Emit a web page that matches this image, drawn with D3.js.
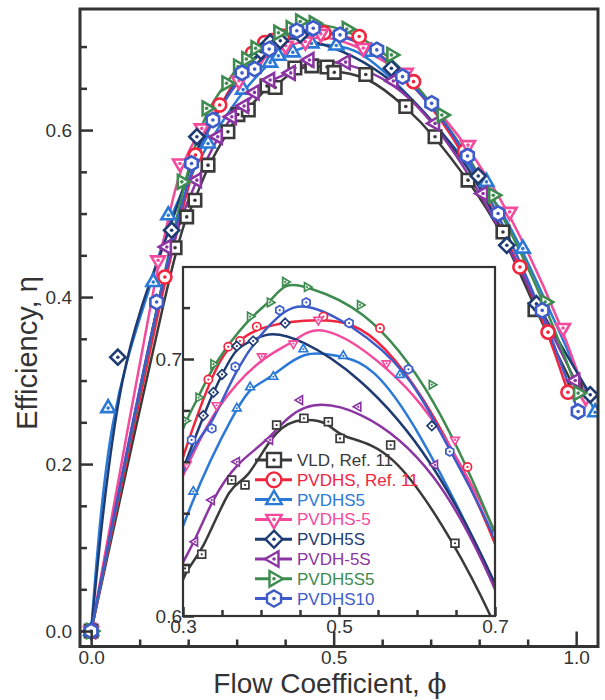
<!DOCTYPE html>
<html>
<head>
<meta charset="utf-8">
<script src="https://cdn.jsdelivr.net/npm/d3@7"></script>
<style>
body { margin: 0; background: #fff; }
text { font-family: "Liberation Sans", Arial, sans-serif; fill: #333; }
</style>
</head>
<body>
<div id="chart"></div>
<script>
// series names, shown in legend order
var seriesNames = ["VLD, Ref. 11", "PVDHS, Ref. 11", "PVDHS5", "PVDHS-5", "PVDH5S", "PVDH-5S", "PVDH5S5", "PVDHS10"];
var seriesColors = ["#3a3a3a", "#f2253f", "#2b79d6", "#f34a9c", "#1f3b73", "#8b35a3", "#3d8b4e", "#3d5bc9"];
var seriesShapes = ["square", "circle", "up", "down", "diamond", "left", "right", "hexagon"];

// flow coefficient / efficiency
var phiVLD = [0, 0.173, 0.197, 0.214, 0.241, 0.282, 0.3026, 0.324, 0.3624, 0.3795, 0.420, 0.455, 0.4863, 0.5013, 0.5662, 0.6487, 0.709, 0.777, 0.849, 0.915, 0.998];
var etaVLD = [0, 0.459, 0.496, 0.516, 0.558, 0.598, 0.6185, 0.624, 0.6529, 0.651, 0.6743, 0.6769, 0.6756, 0.6691, 0.6665, 0.6283, 0.592, 0.540, 0.478, 0.385, 0.289];

var phiPVDHS = [0, 0.152, 0.215, 0.265, 0.3325, 0.358, 0.373, 0.3945, 0.480, 0.5526, 0.6647, 0.77, 0.884, 0.942, 0.983];
var etaPVDHS = [0, 0.424, 0.57, 0.63, 0.692, 0.7048, 0.707, 0.7126, 0.7165, 0.712, 0.658, 0.575, 0.436, 0.358, 0.286];

var phiPVDHS5 = [0, 0.035, 0.128, 0.159, 0.241, 0.3132, 0.369, 0.386, 0.4158, 0.4543, 0.5055, 0.578, 0.815, 0.89, 1.039];
var etaPVDHS5 = [0, 0.267, 0.418, 0.498, 0.584, 0.6484, 0.6808, 0.689, 0.6931, 0.7038, 0.7012, 0.6938, 0.538, 0.458, 0.262];

var phiPVDHSm5 = [0, 0.138, 0.183, 0.228, 0.3047, 0.343, 0.401, 0.4415, 0.4735, 0.561, 0.6487, 0.777, 0.863, 0.973, 1.02];
var etaPVDHSm5 = [0, 0.444, 0.560, 0.602, 0.659, 0.682, 0.701, 0.706, 0.7152, 0.6983, 0.6685, 0.582, 0.502, 0.363, 0.28];

var phiPVDH5S = [0, 0.055, 0.166, 0.218, 0.326, 0.339, 0.350, 0.369, 0.390, 0.431, 0.619, 0.798, 0.857, 0.918, 1.029];
var etaPVDH5S = [0, 0.328, 0.48, 0.592, 0.678, 0.687, 0.694, 0.705, 0.707, 0.714, 0.674, 0.545, 0.462, 0.392, 0.283];

var phiPVDHm5S = [0, 0.156, 0.218, 0.261, 0.290, 0.3154, 0.3368, 0.369, 0.4115, 0.45, 0.5247, 0.623, 0.709, 0.808, 0.998];
var etaPVDHm5S = [0, 0.46, 0.540, 0.592, 0.616, 0.6289, 0.6451, 0.660, 0.6685, 0.684, 0.6814, 0.6588, 0.608, 0.524, 0.30];

var phiPVDH5S5 = [0, 0.187, 0.238, 0.279, 0.303, 0.320, 0.339, 0.386, 0.4115, 0.431, 0.459, 0.527, 0.619, 0.723, 0.829, 0.936, 1.004];
var etaPVDH5S5 = [0, 0.538, 0.626, 0.656, 0.676, 0.685, 0.698, 0.7165, 0.722, 0.730, 0.728, 0.721, 0.690, 0.618, 0.522, 0.394, 0.285];

var phiPVDHS10 = [0, 0.135, 0.207, 0.251, 0.311, 0.337, 0.367, 0.424, 0.458, 0.513, 0.589, 0.642, 0.702, 0.776, 0.839, 0.930, 1.004];
var etaPVDHS10 = [0, 0.394, 0.560, 0.612, 0.6685, 0.673, 0.697, 0.719, 0.722, 0.714, 0.696, 0.664, 0.632, 0.569, 0.500, 0.384, 0.263];

var seriesPhi = [phiVLD, phiPVDHS, phiPVDHS5, phiPVDHSm5, phiPVDH5S, phiPVDHm5S, phiPVDH5S5, phiPVDHS10];
var seriesEta = [etaVLD, etaPVDHS, etaPVDHS5, etaPVDHSm5, etaPVDH5S, etaPVDHm5S, etaPVDH5S5, etaPVDHS10];

// ticks
var xMinor = [0.1, 0.2, 0.3, 0.4, 0.6, 0.7, 0.8, 0.9];
var xMajor = [0, 0.5, 1.0];
var yMinor = [0.05, 0.1, 0.15, 0.25, 0.3, 0.35, 0.45, 0.5, 0.55, 0.65, 0.7];
var yMajor = [0, 0.2, 0.4, 0.6];
var insetXMinor = [0.35, 0.4, 0.45, 0.55, 0.6, 0.65];
var insetXMajor = [0.3, 0.5, 0.7];
var insetYMinor = [0.62, 0.64, 0.66, 0.68, 0.72];
var insetYMajor = [0.6, 0.7];

var width = 605, height = 700;

var svg = d3.select("#chart").append("svg")
    .attr("width", width)
    .attr("height", height);

var mLeft = 80, mRight = 598, mTop = 9, mBottom = 646.5;
var x = d3.scaleLinear().domain([-0.023, 1.045]).range([mLeft, mRight]);
var y = d3.scaleLinear().domain([-0.0185, 0.745]).range([mBottom, mTop]);

var iLeft = 183, iRight = 495, iTop = 267, iBottom = 616;
var xi = d3.scaleLinear().domain([0.3, 0.7]).range([iLeft, iRight]);
var yi = d3.scaleLinear().domain([0.6, 0.7358]).range([iBottom, iTop]);

function markerPath(shape, r) {
  var p = d3.path();
  function poly(angles, rad) {
    angles.forEach(function(a, i) {
      var t = a * Math.PI / 180;
      if (i === 0) p.moveTo(rad * Math.cos(t), rad * Math.sin(t));
      else p.lineTo(rad * Math.cos(t), rad * Math.sin(t));
    });
    p.closePath();
  }
  if (shape === "square") { var s = r * 0.78; p.rect(-s, -s, 2 * s, 2 * s); }
  else if (shape === "circle") { p.arc(0, 0, r * 0.82, 0, 2 * Math.PI); p.closePath(); }
  else if (shape === "up") poly([-90, 30, 150], r);
  else if (shape === "down") poly([90, 210, 330], r);
  else if (shape === "left") poly([180, 300, 60], r);
  else if (shape === "right") poly([0, 120, 240], r);
  else if (shape === "diamond") poly([-90, 0, 90, 180], r * 0.95);
  else if (shape === "hexagon") poly([-90, -30, 30, 90, 150, 210], r * 0.9);
  return p.toString();
}

function drawMarkers(g, pts, shape, color, r, sw, dot) {
  var m = g.selectAll(null).data(pts).enter().append("g")
      .attr("transform", function(d) { return "translate(" + d[0] + "," + d[1] + ")"; });
  m.append("path")
      .attr("d", markerPath(shape, r))
      .attr("fill", "#fff")
      .attr("stroke", color)
      .attr("stroke-width", sw);
  m.append("circle").attr("r", dot).attr("fill", color);
}

// ---------- main plot ----------
svg.append("clipPath").attr("id", "mainClip")
  .append("rect").attr("x", mLeft).attr("y", mTop).attr("width", mRight - mLeft).attr("height", mBottom - mTop);

var line = d3.line().curve(d3.curveBasis);

var mainG = svg.append("g").attr("clip-path", "url(#mainClip)");
seriesNames.forEach(function(name, k) {
  var pts = seriesPhi[k].map(function(p, i) { return [x(p), y(seriesEta[k][i])]; });
  mainG.append("path")
      .attr("d", line(pts))
      .attr("fill", "none")
      .attr("stroke", seriesColors[k])
      .attr("stroke-width", 2.5);
});
seriesNames.forEach(function(name, k) {
  var pts = seriesPhi[k].map(function(p, i) { return [x(p), y(seriesEta[k][i])]; });
  drawMarkers(mainG, pts, seriesShapes[k], seriesColors[k], 8, 2.6, 1.8);
});

// axes
function styleAxis(g) {
  g.select(".domain").remove();
  g.selectAll(".tick line").attr("stroke", "#333").attr("stroke-width", 2.5);
  g.selectAll(".tick text").style("font-size", "19px").attr("fill", "#333");
}
svg.append("g").attr("transform", "translate(0," + mBottom + ")")
  .call(d3.axisBottom(x).tickValues(xMinor).tickSize(-7).tickFormat(""))
  .call(styleAxis);
svg.append("g").attr("transform", "translate(0," + mBottom + ")")
  .call(d3.axisBottom(x).tickValues(xMajor).tickSize(-15).tickPadding(4).tickFormat(d3.format(".1f")))
  .call(styleAxis);
svg.append("g").attr("transform", "translate(" + mLeft + ",0)")
  .call(d3.axisLeft(y).tickValues(yMinor).tickSize(-7).tickFormat(""))
  .call(styleAxis);
svg.append("g").attr("transform", "translate(" + mLeft + ",0)")
  .call(d3.axisLeft(y).tickValues(yMajor).tickSize(-13).tickPadding(8).tickFormat(d3.format(".1f")))
  .call(styleAxis);

svg.append("rect")
    .attr("x", mLeft).attr("y", mTop).attr("width", mRight - mLeft).attr("height", mBottom - mTop)
    .attr("fill", "none").attr("stroke", "#333").attr("stroke-width", 3);

// axis titles
var xt = svg.append("text")
    .attr("x", 330).attr("y", 693)
    .attr("text-anchor", "middle")
    .style("font-size", "28px");
xt.append("tspan").text("Flow Coefficient, ");
xt.append("tspan").text("ϕ").style("font-family", "DejaVu Serif").style("font-size", "28px");

svg.append("text")
    .attr("transform", "translate(37,353) rotate(-90)")
    .attr("text-anchor", "middle")
    .style("font-size", "29px")
    .text("Efficiency, η");

// ---------- inset ----------
svg.append("rect")
    .attr("x", iLeft).attr("y", iTop).attr("width", iRight - iLeft).attr("height", iBottom - iTop)
    .attr("fill", "#fff");

svg.append("clipPath").attr("id", "insetClip")
  .append("rect").attr("x", iLeft).attr("y", iTop).attr("width", iRight - iLeft).attr("height", iBottom - iTop);

var insetG = svg.append("g").attr("clip-path", "url(#insetClip)");
seriesNames.forEach(function(name, k) {
  var pts = seriesPhi[k].map(function(p, i) { return [xi(p), yi(seriesEta[k][i])]; });
  insetG.append("path")
      .attr("d", line(pts))
      .attr("fill", "none")
      .attr("stroke", seriesColors[k])
      .attr("stroke-width", 2.5);
});
seriesNames.forEach(function(name, k) {
  var pts = [];
  seriesPhi[k].forEach(function(p, i) {
    if (p >= 0.28 && p <= 0.72 && seriesEta[k][i] >= 0.59) pts.push([xi(p), yi(seriesEta[k][i])]);
  });
  drawMarkers(insetG, pts, seriesShapes[k], seriesColors[k], 5, 1.7, 1.1);
});

svg.append("g").attr("transform", "translate(0," + iBottom + ")")
  .call(d3.axisBottom(xi).tickValues(insetXMinor).tickSize(-6).tickFormat(""))
  .call(styleAxis);
svg.append("g").attr("transform", "translate(0," + iBottom + ")")
  .call(d3.axisBottom(xi).tickValues(insetXMajor).tickSize(-9).tickPadding(4).tickFormat(d3.format(".1f")))
  .call(styleAxis);
svg.append("g").attr("transform", "translate(" + iLeft + ",0)")
  .call(d3.axisLeft(yi).tickValues(insetYMinor).tickSize(-7).tickFormat(""))
  .call(styleAxis);
svg.append("g").attr("transform", "translate(" + iLeft + ",0)")
  .call(d3.axisLeft(yi).tickValues(insetYMajor).tickSize(-11).tickPadding(1).tickFormat(d3.format(".1f")))
  .call(styleAxis);

svg.append("rect")
    .attr("x", iLeft).attr("y", iTop).attr("width", iRight - iLeft).attr("height", iBottom - iTop)
    .attr("fill", "none").attr("stroke", "#333").attr("stroke-width", 2.2);

// legend
var legend = svg.append("g");
seriesNames.forEach(function(name, k) {
  var ly = 460 + k * 19.8;
  var row = legend.append("g");
  row.append("line")
      .attr("x1", 255).attr("x2", 292).attr("y1", ly).attr("y2", ly)
      .attr("stroke", seriesColors[k]).attr("stroke-width", 3);
  drawMarkers(row, [[274, ly]], seriesShapes[k], seriesColors[k], 9, 2.4, 1.8);
  row.append("text")
      .attr("x", 297).attr("y", ly + 6)
      .style("font-size", "17px")
      .style("fill", seriesColors[k])
      .text(name);
});
</script>
</body>
</html>
